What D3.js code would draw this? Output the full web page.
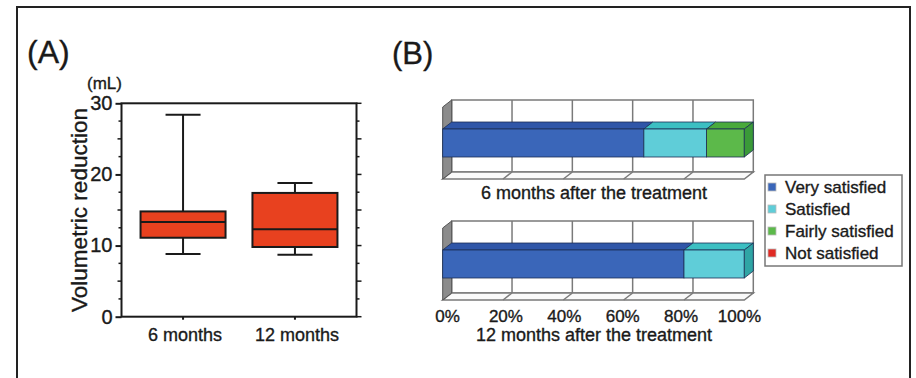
<!DOCTYPE html>
<html>
<head>
<meta charset="utf-8">
<script src="https://cdn.jsdelivr.net/npm/d3@7"></script>
<style>
  body { margin: 0; background: #fff; }
  text { font-family: Arial, "Liberation Sans", sans-serif; fill: #1a1a1a; stroke: #1a1a1a; stroke-width: 0.35px; }
</style>
</head>
<body>
<svg id="chart" width="916" height="378"></svg>
<script>
// ---- data ----
const groups = ['6 months', '12 months'];
const boxStats = [
  { min: 8.8, q1: 11.1, median: 13.3, q3: 14.8, max: 28.4 },
  { min: 8.7, q1: 9.8, median: 12.3, q3: 17.4, max: 18.8 }
];
const yTicks = [0, 10, 20, 30];

const periods = ['6 months after the treatment', '12 months after the treatment'];
const levels = ['Very satisfied', 'Satisfied', 'Fairly satisfied', 'Not satisfied'];
const shares6 = [66.7, 20.8, 12.5, 0];
const shares12 = [80, 20, 0, 0];
const pctTicks = [0, 20, 40, 60, 80, 100];

const levelColors = {
  'Very satisfied':   { front: '#3a66b9', top: '#2f56a8', side: '#2a4d96' },
  'Satisfied':        { front: '#5fcdd8', top: '#3cbfc2', side: '#2fa5a5' },
  'Fairly satisfied': { front: '#5cb94a', top: '#49aa3c', side: '#3a9a38' },
  'Not satisfied':    { front: '#e02a24', top: '#c8201c', side: '#b01a18' }
};

const svg = d3.select('#chart');

// outer frame
svg.append('rect')
  .attr('x', 17).attr('y', 7)
  .attr('width', 893).attr('height', 400)
  .attr('fill', 'none').attr('stroke', '#222').attr('stroke-width', 2);

// ================= (A) box plot =================
svg.append('text').attr('x', 27).attr('y', 63)
  .style('font-size', '32px').text('(A)');

const plotL = 121.5, plotR = 356.5, plotT = 103.3, plotB = 316.7;
const y = d3.scaleLinear().domain([0, 30]).range([plotB, plotT]);
const x = d3.scalePoint().domain(groups).range([plotL, plotR]).padding(0.55);

const gA = svg.append('g');

// frame
gA.append('rect')
  .attr('x', plotL).attr('y', plotT)
  .attr('width', plotR - plotL).attr('height', plotB - plotT)
  .attr('fill', 'none').attr('stroke', '#1a1a1a').attr('stroke-width', 2);

// left axis
const leftAxis = d3.axisLeft(y).tickValues(yTicks).tickSize(6).tickPadding(3);
gA.append('g').attr('transform', `translate(${plotL},0)`).call(leftAxis)
  .call(g => g.select('.domain').remove())
  .call(g => g.selectAll('line').attr('stroke', '#1a1a1a').attr('stroke-width', 2))
  .call(g => g.selectAll('text').style('font-size', '20px')
    .attr('font-family', 'Arial, "Liberation Sans", sans-serif').attr('fill', '#1a1a1a'));

const minorVals = d3.range(0, 30.01, 2.5).filter(v => v % 10 !== 0);
gA.append('g').selectAll('line').data(minorVals).join('line')
  .attr('x1', plotL).attr('x2', d => plotL - (d % 5 === 0 ? 4 : 3))
  .attr('y1', d => y(d)).attr('y2', d => y(d))
  .attr('stroke', '#1a1a1a').attr('stroke-width', 1.5);

// right axis ticks
gA.append('g').selectAll('line').data(d3.range(0, 30.01, 2.5)).join('line')
  .attr('x1', plotR).attr('x2', d => plotR + (d % 5 === 0 ? 5 : 3))
  .attr('y1', d => y(d)).attr('y2', d => y(d))
  .attr('stroke', '#1a1a1a').attr('stroke-width', 1.5);

// bottom ticks
gA.append('g').selectAll('line').data(groups).join('line')
  .attr('x1', d => x(d)).attr('x2', d => x(d))
  .attr('y1', plotB).attr('y2', plotB + 3)
  .attr('stroke', '#1a1a1a').attr('stroke-width', 2);

gA.append('g').selectAll('text').data(groups).join('text')
  .attr('x', d => x(d) + 2).attr('y', 341)
  .attr('text-anchor', 'middle').style('font-size', '18px')
  .text(d => d);

// axis titles
svg.append('text').attr('x', 87).attr('y', 89)
  .style('font-size', '17px').text('(mL)');
svg.append('text')
  .attr('transform', `translate(87,${(plotT + plotB) / 2}) rotate(-90)`)
  .attr('text-anchor', 'middle').style('font-size', '22.5px')
  .text('Volumetric reduction');

// boxes
const boxW = 85, capW = 35;
const box = gA.append('g').selectAll('g').data(boxStats).join('g')
  .attr('transform', (d, i) => `translate(${x(groups[i])},0)`);

box.append('line')
  .attr('x1', 0).attr('x2', 0)
  .attr('y1', d => y(d.min)).attr('y2', d => y(d.max))
  .attr('stroke', '#1a1a1a').attr('stroke-width', 2);
box.selectAll('.cap').data(d => [d.min, d.max]).join('line')
  .attr('class', 'cap')
  .attr('x1', -capW / 2).attr('x2', capW / 2)
  .attr('y1', d => y(d)).attr('y2', d => y(d))
  .attr('stroke', '#1a1a1a').attr('stroke-width', 2);
box.append('rect')
  .attr('x', -boxW / 2).attr('width', boxW)
  .attr('y', d => y(d.q3)).attr('height', d => y(d.q1) - y(d.q3))
  .attr('fill', '#e8411f').attr('stroke', '#1a1a1a').attr('stroke-width', 2);
box.append('line')
  .attr('x1', -boxW / 2).attr('x2', boxW / 2)
  .attr('y1', d => y(d.median)).attr('y2', d => y(d.median))
  .attr('stroke', '#1a1a1a').attr('stroke-width', 2);

// ================= (B) 3D stacked bars =================
svg.append('text').attr('x', 392).attr('y', 64)
  .style('font-size', '31px').text('(B)');

const xs = d3.scaleLinear().domain([0, 100]).range([442.7, 744.3]);
const xLabel = d3.scaleLinear().domain([0, 100]).range([447.5, 739.5]);
const dx = 9, dy = -7;
const rows = periods.map((p, i) => {
  const vals = i === 0 ? shares6 : shares12;
  const o = { period: p };
  levels.forEach((l, j) => o[l] = vals[j]);
  return o;
});
const stacked = d3.stack().keys(levels)(rows);
const chartY = d3.scalePoint().domain(periods).range([107, 228]);
const frontH = 72;
const band = d3.scaleBand().domain(['bar']).range([0, frontH]).padding(0.44);

const gridStroke = '#7a7a7a';
periods.forEach((p, i) => {
  const g = svg.append('g').attr('transform', `translate(0,${chartY(p)})`);
  const x0 = xs(0), x1 = xs(100);

  // back wall
  g.append('rect')
    .attr('x', x0 + dx).attr('y', dy)
    .attr('width', x1 - x0).attr('height', frontH)
    .attr('fill', '#fff').attr('stroke', gridStroke).attr('stroke-width', 1.5);
  // floor
  g.append('path')
    .attr('d', `M${x0},${frontH}L${x1},${frontH}L${x1 + dx},${frontH + dy}L${x0 + dx},${frontH + dy}Z`)
    .attr('fill', '#fafafa').attr('stroke', gridStroke).attr('stroke-width', 1.5);
  // left wall
  g.append('path')
    .attr('d', `M${x0},0L${x0 + dx},${dy}L${x0 + dx},${frontH + dy}L${x0},${frontH}Z`)
    .attr('fill', '#8c8c8c').attr('stroke', '#555').attr('stroke-width', 1);
  // grid lines
  g.append('g').selectAll('line').data(pctTicks.slice(1, -1)).join('line')
    .attr('x1', d => xs(d) + dx).attr('x2', d => xs(d) + dx)
    .attr('y1', dy).attr('y2', frontH + dy)
    .attr('stroke', gridStroke).attr('stroke-width', 1.5);
  g.append('g').selectAll('line').data(pctTicks.slice(1, -1)).join('line')
    .attr('x1', d => xs(d) + dx).attr('x2', d => xs(d))
    .attr('y1', frontH + dy).attr('y2', frontH)
    .attr('stroke', gridStroke).attr('stroke-width', 1.5);

  // bars
  const by = band('bar'), bh = band.bandwidth();
  const segs = stacked.map(s => ({ key: s.key, a: s[i][0], b: s[i][1] }))
    .filter(s => s.b > s.a);
  const bars = g.append('g');
  segs.forEach((s, k) => {
    const c = levelColors[s.key];
    const xa = xs(s.a), xb = xs(s.b);
    bars.append('path')
      .attr('d', `M${xa},${by}L${xb},${by}L${xb + dx},${by + dy}L${xa + dx},${by + dy}Z`)
      .attr('fill', c.top).attr('stroke', '#1d2f55').attr('stroke-width', 0.8);
    bars.append('rect')
      .attr('x', xa).attr('y', by).attr('width', xb - xa).attr('height', bh)
      .attr('fill', c.front).attr('stroke', '#1d2f55').attr('stroke-width', 0.8);
    if (k === segs.length - 1) {
      bars.append('path')
        .attr('d', `M${xb},${by}L${xb + dx},${by + dy}L${xb + dx},${by + bh + dy}L${xb},${by + bh}Z`)
        .attr('fill', c.side).attr('stroke', '#1d2f55').attr('stroke-width', 0.8);
    }
  });

  // tick labels on the lower chart only
  if (i === periods.length - 1) {
    g.append('g').selectAll('text').data(pctTicks).join('text')
      .attr('x', d => xLabel(d)).attr('y', frontH + 22)
      .attr('text-anchor', 'middle').style('font-size', '17px')
      .text(d => d + '%');
  }
  g.append('text')
    .attr('x', 594).attr('y', i === periods.length - 1 ? frontH + 41 : frontH + 20)
    .attr('text-anchor', 'middle').style('font-size', '18px')
    .text(p);
});

// legend
const leg = svg.append('g').attr('transform', 'translate(765,175)');
leg.append('rect').attr('width', 137).attr('height', 91)
  .attr('fill', '#fff').attr('stroke', '#777').attr('stroke-width', 1.5);
const li = leg.selectAll('g').data(levels).join('g')
  .attr('transform', (d, i) => `translate(0,${12 + i * 22})`);
li.append('rect').attr('x', 3).attr('y', -4).attr('width', 8).attr('height', 8)
  .attr('fill', d => levelColors[d].front).attr('stroke', '#bbb').attr('stroke-width', 0.8);
li.append('text').attr('x', 20).attr('y', 6)
  .style('font-size', '17px').text(d => d);
</script>
</body>
</html>
